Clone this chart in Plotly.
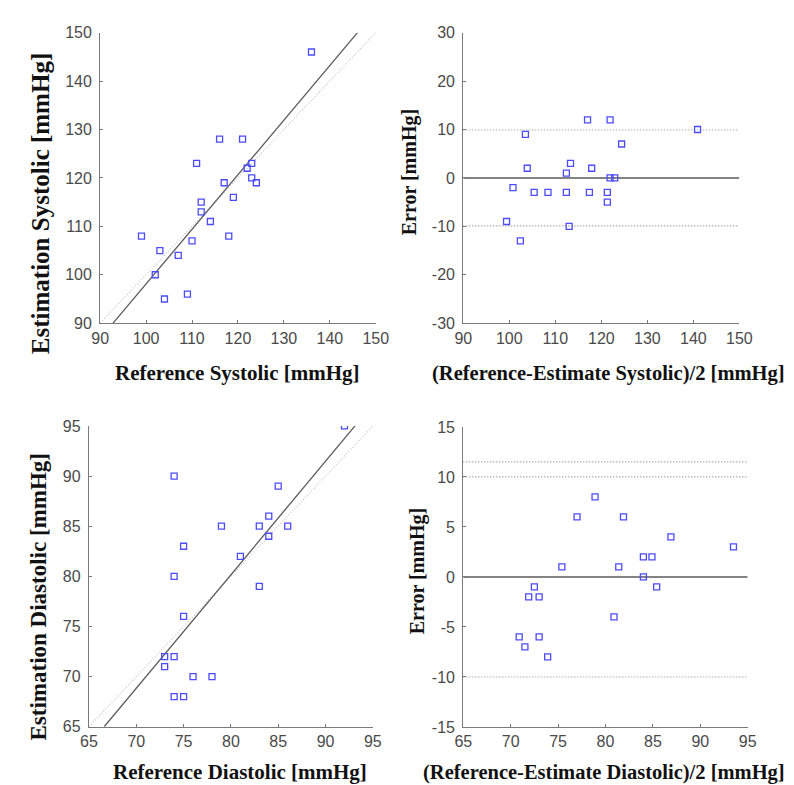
import plotly.graph_objects as go

W, H = 794, 785

# systolic: reference vs estimation
sys_ref = [99, 103, 102, 104, 107, 109, 110, 111, 112, 112, 114, 116, 117, 118, 119, 121, 122, 123, 123, 124, 136]
sys_est = [108, 105, 100, 95, 104, 96, 107, 123, 115, 113, 111, 128, 119, 108, 116, 128, 122, 123, 120, 119, 146]
sys_fit = (1.128, -14.7)  # slope, intercept

# systolic bland-altman
sys_ba_x = [99.4, 100.8, 102.4, 103.5, 103.9, 105.4, 108.4, 112.4, 112.4, 113.3, 113.0,
            117.0, 117.4, 117.9, 121.3, 121.3, 121.9, 121.9, 122.9, 124.4, 140.9]
sys_ba_err = [-9, -2, -13, 9, 2, -3, -3, -3, 1, 3, -10, 12, -3, 2, -3, -5, 12, 0, 0, 7, 10]
sys_limits = [9.9, -9.9]

# diastolic: reference vs estimation
dia_ref = [74, 74, 75, 75, 73, 74, 73, 74, 75, 76, 78, 79, 81, 83, 83, 84, 84, 85, 86, 92]
dia_est = [90, 80, 83, 76, 72, 72, 71, 68, 68, 70, 70, 85, 82, 85, 79, 86, 84, 89, 85, 95]
dia_fit = (1.132, -10.4)

# diastolic bland-altman
dia_ba_x = [70.9, 71.5, 71.9, 72.5, 73.0, 73.0, 73.9, 75.4, 77.0, 78.9, 80.9, 81.4, 81.9,
            84.0, 84.0, 84.9, 85.4, 86.9, 93.5]
dia_ba_err = [-6, -7, -2, -1, -2, -6, -8, 1, 6, 8, -4, 1, 6, 0, 2, 2, -1, 4, 3]
dia_limits = [10, 11.5, -10]

# tick values (hyphen minus as in the original)
sys_ticks = [90, 100, 110, 120, 130, 140, 150]
sys_err_ticks = [-30, -20, -10, 0, 10, 20, 30]
dia_ticks = [65, 70, 75, 80, 85, 90, 95]
dia_err_ticks = [-15, -10, -5, 0, 5, 10, 15]

MARKER = dict(symbol="square-open", size=6, color="rgb(75,75,255)", line=dict(width=1.3))
AXIS_COL = "#7a7a7a"
TICK_FONT = dict(family="Liberation Sans, Arial", size=16, color="#4a4a4a")
TITLE_FONT = "Liberation Serif, Times New Roman"
FINE_DOT = "1px,2px"


def px_x(p):
    return p / W


def px_y(p):
    return 1 - p / H


def axis(domain, ticks, anchor, standoff):
    return dict(domain=domain, range=[ticks[0], ticks[-1]], anchor=anchor,
                tickvals=ticks, ticktext=[str(t) for t in ticks],
                showline=True, linecolor=AXIS_COL, linewidth=1.2,
                ticks="inside", ticklen=3, tickcolor=AXIS_COL, tickwidth=1,
                showgrid=False, zeroline=False, tickfont=TICK_FONT,
                ticklabelstandoff=standoff)


def fit_line(fit, lo, hi):
    m, b = fit
    x0 = max(lo, (lo - b) / m)
    x1 = min(hi, (hi - b) / m)
    return [x0, x1], [m * x0 + b, m * x1 + b]


fig = go.Figure()

# panel 1
fx, fy = fit_line(sys_fit, 90, 150)
fig.add_trace(go.Scatter(x=[90, 150], y=[90, 150], mode="lines", xaxis="x", yaxis="y",
                         line=dict(color="#c4c4c4", width=1.2, dash=FINE_DOT)))
fig.add_trace(go.Scatter(x=fx, y=fy, mode="lines", xaxis="x", yaxis="y",
                         line=dict(color="#5a5a5a", width=1.3)))
fig.add_trace(go.Scatter(x=sys_ref, y=sys_est, mode="markers", xaxis="x", yaxis="y", marker=MARKER))

# panel 2
for v in sys_limits:
    fig.add_trace(go.Scatter(x=[90, 150], y=[v, v], mode="lines", xaxis="x2", yaxis="y2",
                             line=dict(color="#8a8a8a", width=1.1, dash=FINE_DOT)))
fig.add_trace(go.Scatter(x=[90, 150], y=[0, 0], mode="lines", xaxis="x2", yaxis="y2",
                         line=dict(color="#5a5a5a", width=1.5)))
fig.add_trace(go.Scatter(x=sys_ba_x, y=sys_ba_err, mode="markers", xaxis="x2", yaxis="y2", marker=MARKER))

# panel 3
fx, fy = fit_line(dia_fit, 65, 95)
fig.add_trace(go.Scatter(x=[65, 95], y=[65, 95], mode="lines", xaxis="x3", yaxis="y3",
                         line=dict(color="#c4c4c4", width=1.2, dash=FINE_DOT)))
fig.add_trace(go.Scatter(x=fx, y=fy, mode="lines", xaxis="x3", yaxis="y3",
                         line=dict(color="#5a5a5a", width=1.3)))
fig.add_trace(go.Scatter(x=dia_ref, y=dia_est, mode="markers", xaxis="x3", yaxis="y3", marker=MARKER))

# panel 4
for v in dia_limits:
    fig.add_trace(go.Scatter(x=[65, 95], y=[v, v], mode="lines", xaxis="x4", yaxis="y4",
                             line=dict(color="#8a8a8a", width=1.1, dash=FINE_DOT)))
fig.add_trace(go.Scatter(x=[65, 95], y=[0, 0], mode="lines", xaxis="x4", yaxis="y4",
                         line=dict(color="#5a5a5a", width=1.5)))
fig.add_trace(go.Scatter(x=dia_ba_x, y=dia_ba_err, mode="markers", xaxis="x4", yaxis="y4", marker=MARKER))

titles = [
    ("Reference Systolic [mmHg]", 227, 365, 0, 21),
    ("Estimation Systolic [mmHg]", 25, 192, -90, 25),
    ("(Reference-Estimate Systolic)/2 [mmHg]", 608, 365, 0, 20.5),
    ("Error [mmHg]", 404, 160, -90, 20),
    ("Reference Diastolic [mmHg]", 229, 773, 0, 21),
    ("Estimation Diastolic [mmHg]", 22, 594, -90, 23),
    ("(Reference-Estimate Diastolic)/2 [mmHg]", 604, 773, 0, 20.5),
    ("Error [mmHg]", 412, 568, -90, 20),
]
annotations = [
    dict(text="<b>%s</b>" % t, x=px_x(x), y=px_y(y), xref="paper", yref="paper",
         xanchor="center", yanchor="middle", textangle=a, showarrow=False,
         font=dict(family=TITLE_FONT, size=s, color="#111111"))
    for t, x, y, a, s in titles
]

fig.update_layout(
    width=W, height=H, margin=dict(l=0, r=0, t=0, b=0),
    paper_bgcolor="white", plot_bgcolor="white", showlegend=False,
    xaxis=axis([px_x(85.5), px_x(369)], sys_ticks, "y", 0),
    yaxis=axis([px_y(314), px_y(17)], sys_ticks, "x", 4),
    xaxis2=axis([px_x(459), px_x(743)], sys_ticks, "y2", 0),
    yaxis2=axis([px_y(314), px_y(17)], sys_err_ticks, "x2", 4),
    xaxis3=axis([px_x(74), px_x(366)], dia_ticks, "y3", 0),
    yaxis3=axis([px_y(726.5), px_y(419)], dia_ticks, "x3", 4),
    xaxis4=axis([px_x(459), px_x(751.5)], dia_ticks, "y4", 0),
    yaxis4=axis([px_y(726.7), px_y(420)], dia_err_ticks, "x4", 4),
    annotations=annotations,
)

fig.write_html("out.html")
